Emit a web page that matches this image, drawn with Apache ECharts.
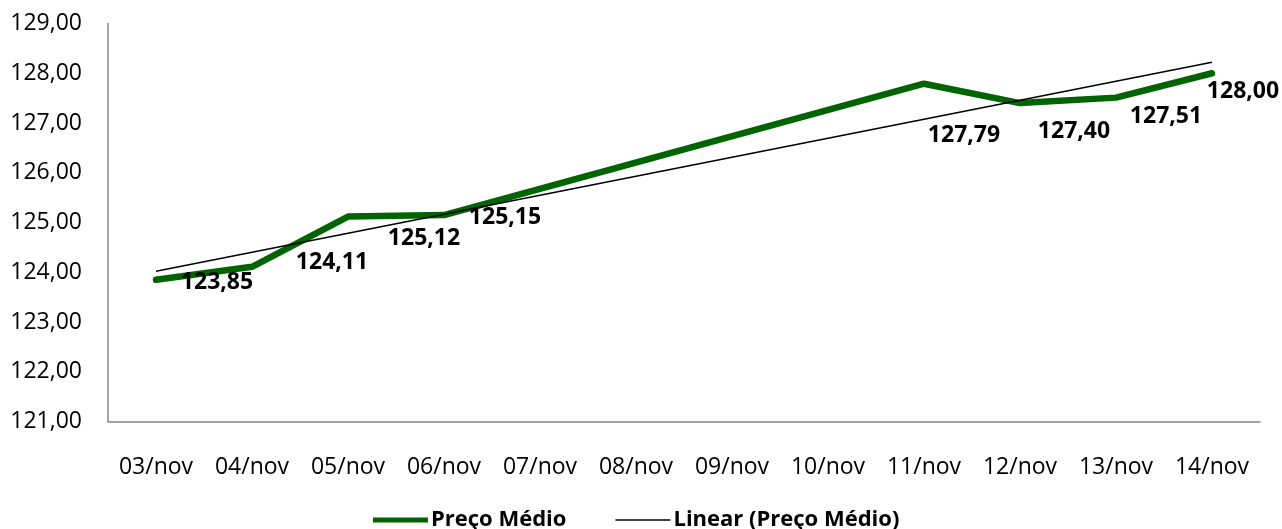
<!DOCTYPE html>
<html>
<head>
<meta charset="utf-8">
<title>Preço Médio</title>
<script src="https://cdn.jsdelivr.net/npm/echarts@6/dist/echarts.min.js"></script>
<style>
  html, body { margin: 0; padding: 0; background: #fff; }
  #chart { width: 1282px; height: 529px; }
</style>
</head>
<body>
<div id="chart"></div>
<script>
  // dados
  const dias = ['03/nov', '04/nov', '05/nov', '06/nov', '07/nov', '08/nov',
                '09/nov', '10/nov', '11/nov', '12/nov', '13/nov', '14/nov'];
  const precoMedio = [123.85, 124.11, 125.12, 125.15, null, null,
                      null, null, 127.79, 127.40, 127.51, 128.00];
  // linha de tendência (pontos extremos)
  const tendencia = [124.02, null, null, null, null, null,
                     null, null, null, null, null, 128.22];
  const yTicks = { min: 121, max: 129, interval: 1 };

  // deslocamento dos rótulos, como no original
  const labelOffsets = [[61, 3], [80, -4], [76, 22], [61, 2], null, null,
                        null, null, [40, 52], [54, 28], [50, 19], [31, 18]];

  const fonte = '"Open Sans", "Noto Sans", sans-serif';
  const verde = '#006400';
  const chart = echarts.init(document.getElementById('chart'));

  const option = {
    animation: false,
    textStyle: { fontFamily: fonte },
    grid: { left: 108, right: 22, top: 23.5, bottom: 107.5 },
    legend: {
      bottom: -2,
      left: 373,
      padding: 0,
      itemWidth: 55,
      itemHeight: 14,
      itemGap: 49,
      symbolKeepAspect: true,
      textStyle: { fontFamily: fonte, fontSize: 22, fontWeight: 'bold', color: '#000', padding: [0, 0, 0, -2] },
      data: [
        { name: 'Preço Médio', icon: 'path://M0,0H55V5H0Z', itemStyle: { color: verde } },
        { name: 'Linear (Preço Médio)', icon: 'path://M0,0H55V1.5H0Z', itemStyle: { color: '#000' } }
      ]
    },
    xAxis: {
      type: 'category',
      data: dias,
      boundaryGap: true,
      axisLine: { lineStyle: { color: '#868686', width: 1.5 } },
      axisTick: { show: false },
      axisLabel: { color: '#000', fontSize: 23, fontFamily: fonte, margin: 34, interval: 0 }
    },
    yAxis: {
      type: 'value',
      min: yTicks.min,
      max: yTicks.max,
      interval: yTicks.interval,
      axisLine: { show: true, lineStyle: { color: '#868686', width: 1.5 } },
      axisTick: { show: false },
      splitLine: { show: false },
      axisLabel: {
        color: '#000', fontSize: 23, fontFamily: fonte, margin: 26,
        formatter: v => v.toFixed(2).replace('.', ',')
      }
    },
    series: [
      {
        name: 'Preço Médio',
        type: 'line',
        data: precoMedio.map((v, i) => ({
          value: v,
          label: labelOffsets[i] ? { offset: labelOffsets[i] } : undefined
        })),
        connectNulls: true,
        symbol: 'circle',
        symbolSize: 1,
        showSymbol: true,
        lineStyle: { color: verde, width: 6.5, cap: 'round', join: 'round' },
        itemStyle: { color: verde },
        label: {
          show: true,
          position: 'inside',
          color: '#000',
          fontSize: 23,
          fontWeight: 'bold',
          fontFamily: fonte,
          formatter: p => p.value == null ? '' : p.value.toFixed(2).replace('.', ',')
        },
        z: 2
      },
      {
        name: 'Linear (Preço Médio)',
        type: 'line',
        data: tendencia,
        connectNulls: true,
        symbol: 'none',
        lineStyle: { color: '#000', width: 1.5 },
        itemStyle: { color: '#000' },
        z: 3
      }
    ]
  };

  chart.setOption(option);
</script>
</body>
</html>
